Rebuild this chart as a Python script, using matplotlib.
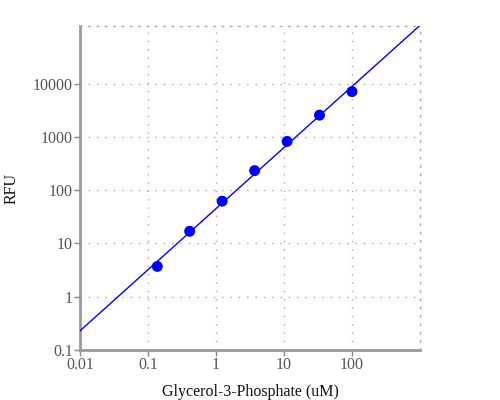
import numpy as np
import matplotlib
matplotlib.use('Agg')
import matplotlib.pyplot as plt
from matplotlib.ticker import FixedLocator, FixedFormatter, NullLocator

# standard curve data (3-fold dilution series)
conc = [0.137, 0.41, 1.23, 3.7, 11.1, 33.3, 100]
rfu = [3.7, 16.9, 62, 232, 820, 2550, 7050]

x_ticks = [0.01, 0.1, 1, 10, 100]
x_labels = ['0.01', '0.1', '1', '10', '100']
y_ticks = [0.1, 1, 10, 100, 1000, 10000]
y_labels = ['0.1', '1', '10', '100', '1000', '10000']

plt.rcParams['font.family'] = ['Liberation Serif', 'DejaVu Serif']

fig = plt.figure(figsize=(5, 4), dpi=100)
ax = fig.add_axes([0.16, 0.125, 0.68, 0.81])

# linear fit in log-log space
slope, icpt = np.polyfit(np.log10(conc), np.log10(rfu), 1)
xl = np.array([0.01, 1000])
ax.plot(xl, 10 ** (icpt + slope * np.log10(xl)), color='blue', lw=1, zorder=3)
ax.scatter(conc, rfu, s=62, color='blue', zorder=4, edgecolors='none')

ax.set_xscale('log')
ax.set_yscale('log')
ax.set_xlim(0.01, 1000)
ax.set_ylim(0.1, 120000)

ax.xaxis.set_major_locator(FixedLocator(x_ticks))
ax.xaxis.set_major_formatter(FixedFormatter(x_labels))
ax.yaxis.set_major_locator(FixedLocator(y_ticks))
ax.yaxis.set_major_formatter(FixedFormatter(y_labels))
ax.xaxis.set_minor_locator(NullLocator())
ax.yaxis.set_minor_locator(NullLocator())

ax.tick_params(axis='both', colors='#888888', labelcolor='#555555',
               labelsize=11.5, length=4, width=1, pad=1)

# dotted grid lines
ax.grid(True, which='major', color='#aaaaaa', linestyle=(0, (1, 5)), lw=1)

for s in ['left', 'bottom']:
    ax.spines[s].set_color('#999999')
    ax.spines[s].set_linewidth(2)
for s in ['top', 'right']:
    ax.spines[s].set_color('#aaaaaa')
    ax.spines[s].set_linestyle((0, (1, 5)))
    ax.spines[s].set_linewidth(1)

ax.set_xlabel('Glycerol-3-Phosphate (uM)', fontsize=11.5, color='#111111', labelpad=8)
ax.set_ylabel('RFU', fontsize=11.5, color='#111111', labelpad=10)

fig.savefig('out.png', dpi=100)
